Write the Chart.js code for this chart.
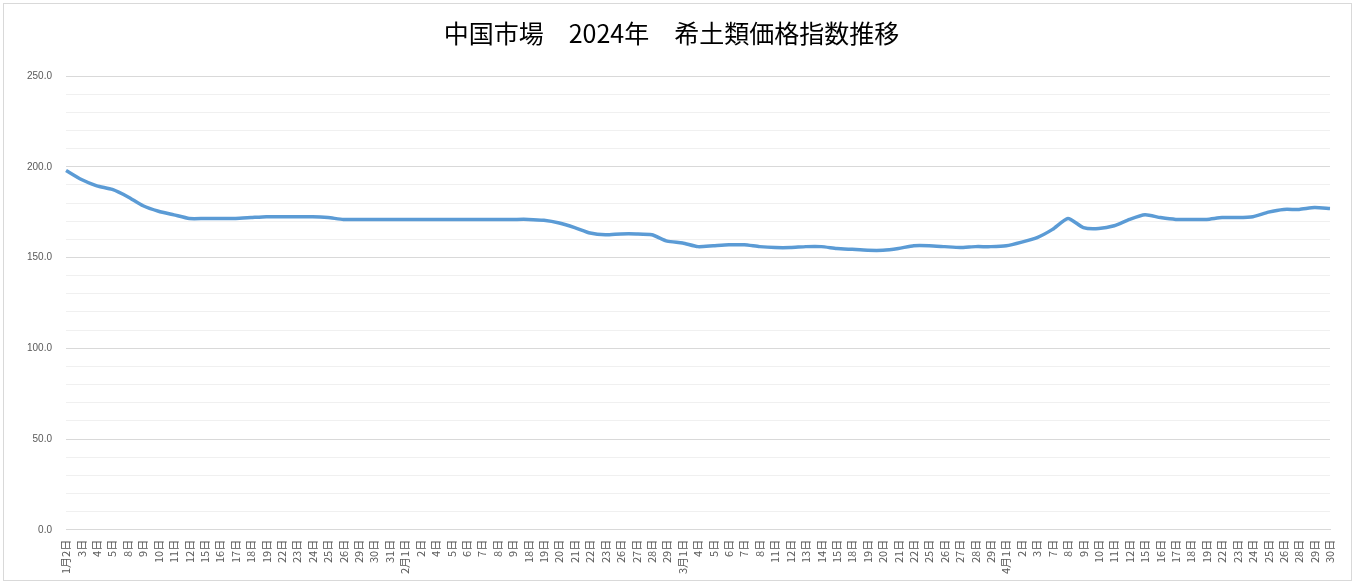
<!DOCTYPE html>
<html><head><meta charset="utf-8">
<script src="https://cdn.jsdelivr.net/npm/chart.js@4"></script>
<style>html,body{margin:0;padding:0;background:#fff}#w{position:absolute;left:3px;top:3px;width:1349px;height:578px;border:1px solid #d9d9d9;box-sizing:border-box}</style>
</head><body><div id="w"><canvas id="c"></canvas></div>
<script>
const jan=["1月2日","3日","4日","5日","8日","9日","10日","11日","12日","15日","16日","17日","18日","19日","22日","23日","24日","25日","26日","29日","30日","31日"];
const feb=["2月1日","2日","4日","5日","6日","7日","8日","9日","18日","19日","20日","21日","22日","23日","26日","27日","28日","29日"];
const mar=["3月1日","4日","5日","6日","7日","8日","11日","12日","13日","14日","15日","18日","19日","20日","21日","22日","25日","26日","27日","28日","29日"];
const apr=["4月1日","2日","3日","7日","8日","9日","10日","11日","12日","15日","16日","17日","18日","19日","22日","23日","24日","25日","26日","28日","29日","30日"];
const labels=[...jan,...feb,...mar,...apr];
const janV=[198,193,189.5,187.5,183.5,178.5,175.5,173.5,171.5,171.5,171.5,171.5,172,172.5,172.5,172.5,172.5,172,171,171,171,171];
const febV=[171,171,171,171,171,171,171,171,171,170.5,169,166.5,163.5,162.5,163,163,162.5,159];
const marV=[158,156,156.5,157,157,156,155.5,155.5,156,156,155,154.5,154,154,155,156.5,156.5,156,155.5,156,156];
const aprV=[156.5,158.5,161,165.5,171.5,166.5,166,167.5,171,173.5,172,171,171,171,172,172,172.5,175,176.5,176.5,177.5,177];
const values=[...janV,...febV,...marV,...aprV];
new Chart(document.getElementById('c'),{type:'line',
data:{labels,datasets:[{data:values,borderColor:'#5b9bd5',borderWidth:3.5,pointRadius:0,tension:0.2}]},
options:{responsive:true,maintainAspectRatio:false,animation:false,
layout:{padding:{left:9,right:21,top:8,bottom:4}},
plugins:{legend:{display:false},tooltip:{enabled:false},
title:{display:true,text:'中国市場　2024年　希土類価格指数推移',font:{size:25,family:'"Noto Sans CJK JP"',weight:'normal'},color:'#000',padding:{top:6,bottom:28}}},
scales:{
x:{grid:{display:false},border:{color:'#d9d9d9'},ticks:{autoSkip:false,maxRotation:90,minRotation:90,color:'#595959',font:{size:11,family:'"Noto Sans CJK JP"'},padding:2}},
y:{min:0,max:250,border:{display:false},ticks:{stepSize:10,color:'#595959',font:{size:10,family:'Liberation Sans'},padding:14,
callback:v=>v%50===0?v.toFixed(1):''},
grid:{color:c=>c.tick&&c.tick.value%50===0?'#d9d9d9':'#f0f0f0',drawTicks:false}}}}});
</script></body></html>
